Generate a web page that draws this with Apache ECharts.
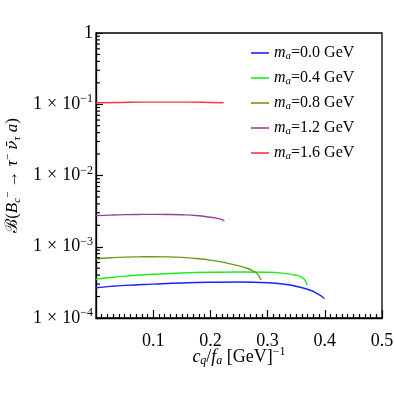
<!DOCTYPE html>
<html><head><meta charset="utf-8">
<script src="https://cdn.jsdelivr.net/npm/echarts@6/dist/echarts.min.js"></script>
<style>html,body{margin:0;padding:0;background:#fff}#c{width:395px;height:395px}</style>
</head><body><div id="c"></div>
<script>
// ---- data ----
const masses = ['0.0', '0.4', '0.8', '1.2', '1.6'];
const colors = ['#1f1fff', '#19f019', '#6e9b18', '#a03ca0', '#ff3535'];

const cBlue  = [0, 0.025, 0.05, 0.1, 0.15, 0.2, 0.25, 0.3, 0.33, 0.357, 0.375, 0.386, 0.395, 0.399];
const vBlue  = [2.66e-4, 2.78e-4, 2.87e-4, 2.99e-4, 3.1e-4, 3.17e-4, 3.2e-4, 3.13e-4, 2.97e-4, 2.7e-4, 2.45e-4, 2.22e-4, 2.0e-4, 1.85e-4];

const cGreen = [0, 0.025, 0.05, 0.1, 0.15, 0.2, 0.25, 0.3, 0.33, 0.35, 0.36, 0.365, 0.369];
const vGreen = [3.49e-4, 3.7e-4, 3.87e-4, 4.12e-4, 4.28e-4, 4.38e-4, 4.42e-4, 4.38e-4, 4.22e-4, 3.98e-4, 3.72e-4, 3.42e-4, 2.9e-4];

const cOlive = [0, 0.025, 0.05, 0.075, 0.1, 0.125, 0.15, 0.175, 0.2, 0.225, 0.25, 0.265, 0.275, 0.283, 0.2885];
const vOlive = [6.8e-4, 7.0e-4, 7.15e-4, 7.22e-4, 7.25e-4, 7.22e-4, 7.1e-4, 6.85e-4, 6.5e-4, 6.0e-4, 5.4e-4, 4.95e-4, 4.55e-4, 4.1e-4, 3.4e-4];

const cPurple = [0, 0.025, 0.05, 0.075, 0.1, 0.125, 0.15, 0.175, 0.2, 0.21, 0.22, 0.2245];
const vPurple = [2.73e-3, 2.78e-3, 2.82e-3, 2.84e-3, 2.85e-3, 2.84e-3, 2.81e-3, 2.74e-3, 2.6e-3, 2.52e-3, 2.4e-3, 2.3e-3];

const cRed = [0, 0.04, 0.08, 0.12, 0.16, 0.2, 0.223];
const vRed = [0.105, 0.106, 0.107, 0.107, 0.107, 0.106, 0.105];

const xTicks = [0.1, 0.2, 0.3, 0.4, 0.5];
const yDecades = [1e-4, 1e-3, 1e-2, 1e-1];
const yMinorMult = [2, 3, 4, 5, 6, 7, 8, 9];

// ---- build ----
const curves = [[cBlue, vBlue], [cGreen, vGreen], [cOlive, vOlive], [cPurple, vPurple], [cRed, vRed]];
const names = masses.map(m => 'm' + m);
const serif = "'Liberation Serif', 'DejaVu Serif', serif";

const minorData = [];
yDecades.forEach(d => yMinorMult.forEach(k => minorData.push([0, k * d])));

const series = curves.map((cv, i) => ({
  name: names[i], type: 'line', showSymbol: false, symbol: 'none', smooth: true,
  data: cv[0].map((c, j) => [c, cv[1][j]]),
  lineStyle: { color: colors[i], width: 1.4 }, itemStyle: { color: colors[i] },
  z: 3
}));
series.push({
  type: 'custom', silent: true, data: minorData, z: 4,
  renderItem: (params, api) => {
    const p = api.coord([api.value(0), api.value(1)]);
    return { type: 'line', shape: { x1: p[0], y1: p[1], x2: p[0] + 4, y2: p[1] },
             style: { stroke: '#000', lineWidth: 1.2 } };
  }
});

const chart = echarts.init(document.getElementById('c'));
chart.setOption({
  animation: false,
  textStyle: { fontFamily: serif },
  grid: { left: 96, right: 13, top: 33, bottom: 77, containLabel: false, outerBoundsMode: 'none',
          show: true, borderColor: '#000', borderWidth: 1.3, backgroundColor: 'transparent' },
  legend: {
    data: names, orient: 'vertical', left: 251, top: 45, itemWidth: 18, itemHeight: 1.6, itemGap: 8.5,
    icon: 'rect', padding: 0,
    formatter: n => '{i|m}{s|a}{t|=' + n.slice(1) + ' GeV}',
    textStyle: {
      fontFamily: serif, color: '#000', fontSize: 16,
      rich: {
        i: { fontFamily: serif, fontStyle: 'italic', fontSize: 16, color: '#000' },
        s: { fontFamily: serif, fontStyle: 'italic', fontSize: 11, color: '#000', verticalAlign: 'bottom', padding: [6, 0, 0, 0] },
        t: { fontFamily: serif, fontSize: 16, color: '#000' }
      }
    }
  },
  xAxis: {
    type: 'value', min: 0, max: 0.5, interval: 0.1,
    axisLine: { show: true, lineStyle: { color: '#000', width: 1.3 } },
    axisTick: { show: true, inside: true, length: 8, lineStyle: { color: '#000', width: 1.2 } },
    minorTick: { show: true, splitNumber: 10, length: 4, lineStyle: { color: '#000', width: 1.2 } },
    splitLine: { show: false },
    axisLabel: {
      fontFamily: serif, fontSize: 18, color: '#000', margin: 14,
      formatter: v => (xTicks.some(t => Math.abs(t - v) < 1e-9) ? v.toFixed(1) : '')
    },
    name: '{i|c}{s|q}{t|/}{i|f}{s|a}{t| [GeV]}{p|−1}',
    nameLocation: 'middle', nameGap: 28, nameMoveOverlap: false,
    nameTextStyle: {
      fontFamily: serif, fontSize: 18, color: '#000',
      rich: {
        i: { fontFamily: serif, fontStyle: 'italic', fontSize: 18, color: '#000' },
        s: { fontFamily: serif, fontStyle: 'italic', fontSize: 12, color: '#000', padding: [8, 0, 0, 0] },
        t: { fontFamily: serif, fontSize: 18, color: '#000' },
        p: { fontFamily: serif, fontSize: 12, color: '#000', padding: [0, 0, 10, 0] }
      }
    }
  },
  yAxis: {
    type: 'log', logBase: 10, min: 1e-4, max: 1,
    axisLine: { show: true, lineStyle: { color: '#000', width: 1.3 } },
    axisTick: { show: true, inside: true, length: 7, lineStyle: { color: '#000', width: 1.2 } },
    splitLine: { show: false },
    axisLabel: {
      fontFamily: serif, fontSize: 18, color: '#000', margin: 3,
      formatter: v => {
        if (Math.abs(v - 1) < 1e-9) return '{t|1}';
        const e = Math.round(Math.log10(v));
        return '{t|1}{x|×}{t|10}{p|−' + (-e) + '}';
      },
      rich: {
        t: { fontFamily: serif, fontSize: 18, color: '#000' },
        x: { fontFamily: serif, fontSize: 18, color: '#000', padding: [0, 5, 0, 5] },
        p: { fontFamily: serif, fontSize: 12, color: '#000', padding: [0, 0, 10, 0] }
      }
    },
    name: '{t|ℬ(}{i|B}{s|c}{p|−}{t| → }{i|τ}{p|−}{t| }{v|ν̄}{s|τ}{t| }{i|a}{t|)}',
    nameLocation: 'middle', nameGap: 72, nameRotate: 90,
    nameTextStyle: {
      fontFamily: serif, fontSize: 17, color: '#000',
      rich: {
        i: { fontFamily: serif, fontStyle: 'italic', fontSize: 17, color: '#000' },
        v: { fontFamily: "'DejaVu Serif', serif", fontStyle: 'italic', fontSize: 15, color: '#000' },
        s: { fontFamily: serif, fontStyle: 'italic', fontSize: 11, color: '#000', padding: [8, 0, 0, 0] },
        t: { fontFamily: serif, fontSize: 17, color: '#000' },
        p: { fontFamily: serif, fontSize: 11, color: '#000', padding: [0, 0, 9, 0] }
      }
    }
  },
  series: series
});
</script></body></html>
